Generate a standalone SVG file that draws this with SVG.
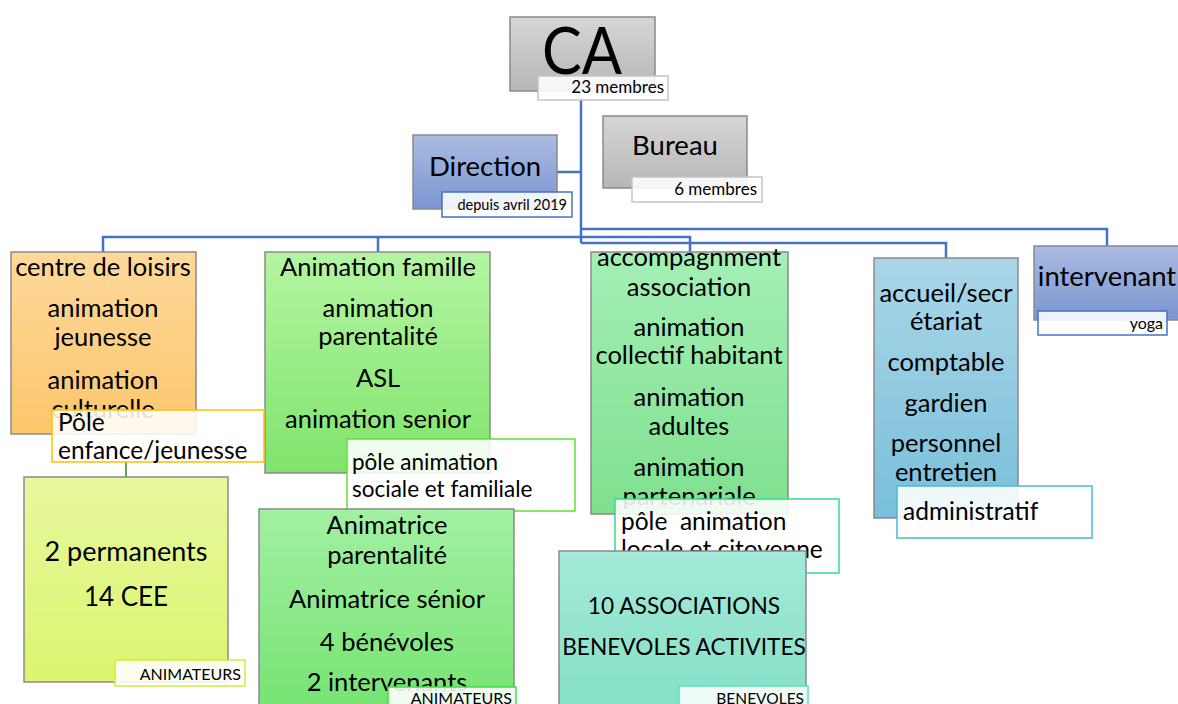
<svg xmlns="http://www.w3.org/2000/svg" width="1178" height="704" viewBox="0 0 1178 704">
<defs>
<linearGradient id="gGray" x1="0" y1="0" x2="0" y2="1"><stop offset="0" stop-color="#d6d6d6"/><stop offset="1" stop-color="#b6b6b6"/></linearGradient>
<linearGradient id="gBlue" x1="0" y1="0" x2="0" y2="1"><stop offset="0" stop-color="#abbbe3"/><stop offset="1" stop-color="#7b95d0"/></linearGradient>
<linearGradient id="gOrange" x1="0" y1="0" x2="0" y2="1"><stop offset="0" stop-color="#fed99b"/><stop offset="1" stop-color="#fcc66c"/></linearGradient>
<linearGradient id="gFam" x1="0" y1="0" x2="0" y2="1"><stop offset="0" stop-color="#b4f5a2"/><stop offset="1" stop-color="#80e46c"/></linearGradient>
<linearGradient id="gYel" x1="0" y1="0" x2="0" y2="1"><stop offset="0" stop-color="#e7f89e"/><stop offset="1" stop-color="#dbf56e"/></linearGradient>
<linearGradient id="gAnim" x1="0" y1="0" x2="0" y2="1"><stop offset="0" stop-color="#a2f0a2"/><stop offset="1" stop-color="#76e372"/></linearGradient>
<linearGradient id="gAcc" x1="0" y1="0" x2="0" y2="1"><stop offset="0" stop-color="#a4efb6"/><stop offset="1" stop-color="#7fe08e"/></linearGradient>
<linearGradient id="gTeal" x1="0" y1="0" x2="0" y2="1"><stop offset="0" stop-color="#a4e9d9"/><stop offset="1" stop-color="#84e0c6"/></linearGradient>
<linearGradient id="gSky" x1="0" y1="0" x2="0" y2="1"><stop offset="0" stop-color="#aad6e7"/><stop offset="1" stop-color="#79bfdb"/></linearGradient>
</defs>
<style>
.box{stroke:#8a8a8a;stroke-width:1.5}
.lbl{fill:#ffffff;fill-opacity:0.88;stroke-width:1.5}
.t{font-family:Lato,"Liberation Sans",sans-serif;fill:#000;text-anchor:middle;font-size:25.5px}
.tl{font-family:Lato,"Liberation Sans",sans-serif;fill:#000;font-size:24.5px}
.ts{font-family:Lato,"Liberation Sans",sans-serif;fill:#000;text-anchor:end;font-size:16px}
.big{font-size:27.5px}
.conn{fill:none;stroke:#4472c4;stroke-width:2.5}
</style>
<rect width="1178" height="704" fill="#ffffff"/>
<g id="connectors">
<polyline class="conn" points="581,98 581,243"/>
<polyline class="conn" points="557,172 581,172"/>
<polyline class="conn" points="581,229 1107,229 1107,246"/>
<polyline class="conn" points="103,252 103,237 690,237 690,253"/>
<polyline class="conn" points="378,237 378,252"/>
<polyline class="conn" points="581,243 946,243 946,258"/>
<line x1="126" y1="462" x2="126" y2="477" stroke="#6aa84f" stroke-width="2"/>
</g>
<g id="ca">
<rect class="box" x="510" y="17" width="145" height="74" fill="url(#gGray)"/>
<text class="t" x="582" y="74" style="font-size:66px" textLength="80" lengthAdjust="spacingAndGlyphs">CA</text>
<rect class="lbl" x="538" y="76" width="130" height="24" stroke="#c4c4c4"/>
<text class="ts" x="664" y="93" style="font-size:17px">23 membres</text>
</g>
<g id="direction">
<rect class="box" x="413" y="135" width="144" height="74" fill="url(#gBlue)"/>
<text class="t big" x="485" y="176">Direction</text>
<rect class="lbl" x="442" y="192" width="130" height="25" stroke="#4472c4"/>
<text class="ts" x="567" y="210" style="font-size:14.5px">depuis avril 2019</text>
</g>
<g id="bureau">
<rect class="box" x="603" y="116" width="144" height="72" fill="url(#gGray)"/>
<text class="t big" x="675" y="155">Bureau</text>
<rect class="lbl" x="632" y="177" width="130" height="25" stroke="#c4c4c4"/>
<text class="ts" x="757" y="195" style="font-size:17px">6 membres</text>
</g>
<g id="centre-loisirs">
<rect class="box" x="11" y="252" width="185" height="182" fill="url(#gOrange)"/>
<text class="t" x="103" y="276">centre de loisirs</text>
<text class="t" x="103" y="317">animation</text>
<text class="t" x="103" y="346">jeunesse</text>
<text class="t" x="103" y="389">animation</text>
<text class="t" x="103" y="418">culturelle</text>
</g>
<g id="animation-famille">
<rect class="box" x="265" y="252" width="225" height="221" fill="url(#gFam)"/>
<text class="t" x="378" y="276">Animation famille</text>
<text class="t" x="378" y="317">animation</text>
<text class="t" x="378" y="345">parentalité</text>
<text class="t" x="378" y="387">ASL</text>
<text class="t" x="378" y="428">animation senior</text>
</g>
<g id="accompagnement">
<rect class="box" x="591" y="252" width="197" height="262" fill="url(#gAcc)"/>
<text class="t" x="689" y="266">accompagnment</text>
<text class="t" x="689" y="296">association</text>
<text class="t" x="689" y="336">animation</text>
<text class="t" x="689" y="364">collectif habitant</text>
<text class="t" x="689" y="406">animation</text>
<text class="t" x="689" y="435">adultes</text>
<text class="t" x="689" y="476">animation</text>
<text class="t" x="689" y="505">partenariale</text>
</g>
<g id="accueil">
<rect class="box" x="874" y="258" width="144" height="260" fill="url(#gSky)"/>
<text class="t" x="946" y="302">accueil/secr</text>
<text class="t" x="946" y="330">étariat</text>
<text class="t" x="946" y="371">comptable</text>
<text class="t" x="946" y="412">gardien</text>
<text class="t" x="946" y="452">personnel</text>
<text class="t" x="946" y="481">entretien</text>
</g>
<g id="intervenant">
<rect class="box" x="1034" y="246" width="150" height="74" fill="url(#gBlue)"/>
<text class="t big" x="1107" y="286">intervenant</text>
<rect class="lbl" x="1038" y="311" width="129" height="24" stroke="#4472c4"/>
<text class="ts" x="1163" y="329">yoga</text>
</g>
<g id="pole-enfance">
<rect class="lbl" x="52" y="410" width="212" height="52" stroke="#ffc000"/>
<text class="tl" x="58" y="431">Pôle</text>
<text class="tl" x="58" y="459">enfance/jeunesse</text>
</g>
<g id="pole-sociale">
<rect class="lbl" x="347" y="439" width="228" height="72" stroke="#66dd33"/>
<text class="tl" x="352" y="470" style="font-size:22.5px">pôle animation</text>
<text class="tl" x="352" y="497" style="font-size:22.5px">sociale et familiale</text>
</g>
<g id="pole-locale">
<rect class="lbl" x="615" y="499" width="224" height="74" stroke="#33dd88"/>
<text class="tl" x="621" y="530" xml:space="preserve">pôle  animation</text>
<text class="tl" x="621" y="558">locale et citoyenne</text>
</g>
<g id="administratif">
<rect class="lbl" x="897" y="486" width="195" height="52" stroke="#4ab8d8"/>
<text class="tl" x="903" y="520">administratif</text>
</g>
<g id="permanents">
<rect class="box" x="24" y="477" width="204" height="205" fill="url(#gYel)"/>
<text class="t" x="126" y="561" style="font-size:27px">2 permanents</text>
<text class="t" x="126" y="606" style="font-size:26px">14 CEE</text>
<rect class="lbl" x="115" y="660" width="130" height="26" stroke="#ccee33"/>
<text class="ts" x="241" y="680">ANIMATEURS</text>
</g>
<g id="animatrices">
<rect class="box" x="259" y="509" width="255" height="205" fill="url(#gAnim)"/>
<text class="t" x="387" y="534">Animatrice</text>
<text class="t" x="387" y="564">parentalité</text>
<text class="t" x="387" y="608">Animatrice sénior</text>
<text class="t" x="387" y="651">4 bénévoles</text>
<text class="t" x="387" y="691">2 intervenants</text>
<rect class="lbl" x="388" y="687" width="128" height="25" stroke="#44dd44"/>
<text class="ts" x="512" y="704">ANIMATEURS</text>
</g>
<g id="associations">
<rect class="box" x="559" y="551" width="247" height="163" fill="url(#gTeal)"/>
<text class="t" x="684" y="614" style="font-size:22.7px">10 ASSOCIATIONS</text>
<text class="t" x="684" y="655" style="font-size:22.7px">BENEVOLES ACTIVITES</text>
<rect class="lbl" x="679" y="686" width="129" height="26" stroke="#55e0c0"/>
<text class="ts" x="804" y="704" style="font-size:15.5px">BENEVOLES</text>
</g>
</svg>
